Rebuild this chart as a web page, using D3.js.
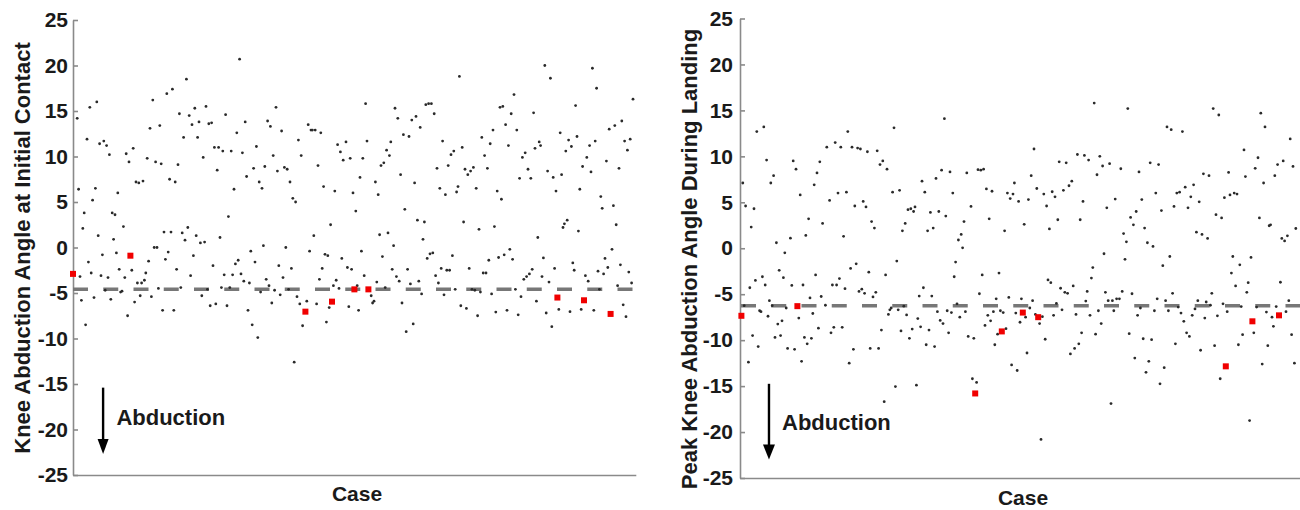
<!DOCTYPE html>
<html>
<head>
<meta charset="utf-8">
<script src="https://cdn.jsdelivr.net/npm/d3@7"></script>
<style>
  body { margin: 0; background: #fff; }
  svg { display: block; font-family: "Liberation Sans", Arial, sans-serif; }
  .axis path, .axis line { stroke: #8a8a8a; stroke-width: 1.6; }
  .axis text { font-size: 21px; font-weight: bold; fill: #1a1a1a; }
  .ylabel, .xlabel, .note { font-weight: bold; fill: #1a1a1a; }
</style>
</head>
<body>
<svg id="chart" width="1300" height="510"></svg>
<script>
// Y axis ticks (degrees) and number of cases per panel
const yTicks = [25, 20, 15, 10, 5, 0, -5, -10, -15, -20, -25];
const caseCount = 402;

// Knee abduction angle at initial contact: [case, angle]
const contactAngles = [
  [3,14.2],[4,6.4],[5,-3.2],[6,-5.8],[7,2.1],[8,3.8],[9,-8.5],[10,11.9],[11,-1.6],[12,15.4],[13,-2.8],[14,5.2],[15,-5.5],[16,6.5],[17,16.0],[18,1.3],[19,11.4],[20,-3.1],[21,-0.8],[22,11.7],[23,-4.7],[24,11.2],[25,-3.3],[26,10.2],[27,-5.7],[28,3.8],[29,0.9],[30,3.6],[31,-0.6],[32,6.0],[33,-2.4],[34,-4.9],[35,-4.8],[36,2.3],[37,-3.3],[38,10.3],[39,-7.5],[40,9.4],[42,-2.5],[43,10.9],[44,-6.0],[45,7.2],[46,-3.9],[47,7.1],[48,-5.3],[49,-3.9],[50,7.3],[51,-3.6],[52,-2.8],[53,9.8],[54,-1.5],[55,13.1],[56,-5.4],[57,16.2],[58,0.0],[59,9.4],[60,0.0],[61,-4.5],[62,13.4],[63,9.2],[64,-6.9],[65,1.7],[66,-1.3],[67,16.9],[68,-0.5],[69,7.5],[70,1.7],[71,17.4],[72,-6.9],[73,7.2],[74,-2.4],[75,9.1],[76,14.7],[77,-4.4],[78,1.6],[79,12.1],[80,0.8],[81,18.5],[82,2.2],[83,14.5],[84,-3.1],[85,13.5],[86,-0.9],[87,15.3],[88,1.3],[89,12.1],[90,13.8],[91,0.5],[92,-5.3],[93,9.9],[94,0.6],[95,15.5],[96,-4.6],[97,13.6],[98,-6.4],[99,13.7],[100,-2.0],
  [101,11.0],[102,-6.2],[103,8.5],[104,11.0],[105,1.1],[106,-4.4],[107,10.6],[108,-3.0],[109,14.6],[110,-6.4],[111,3.4],[112,-4.4],[113,10.6],[114,-3.0],[115,6.4],[116,-1.8],[117,12.6],[118,-1.4],[119,20.7],[120,-2.9],[121,10.4],[122,-3.7],[123,13.8],[124,7.8],[125,-6.9],[126,-3.9],[127,-0.4],[128,-8.5],[129,8.7],[130,-1.6],[131,11.1],[132,-9.9],[133,7.2],[134,-4.9],[135,6.5],[136,0.2],[137,8.9],[138,-3.5],[139,13.9],[140,-4.2],[141,13.3],[142,-6.1],[143,10.1],[144,-4.7],[145,15.4],[146,8.4],[147,-2.0],[148,-5.2],[149,12.8],[150,-3.3],[151,8.8],[152,0.0],[153,8.6],[154,-4.6],[155,7.2],[156,-2.3],[157,5.4],[158,-12.6],[159,5.0],[160,-5.4],[161,11.8],[162,-6.2],[163,10.1],[164,-8.6],[167,-5.9],[168,13.5],[169,-0.4],[170,12.9],[171,12.9],[172,1.3],[173,12.9],[174,-6.2],[175,9.0],[176,-3.5],[177,12.6],[178,-2.3],[179,6.7],[180,-0.75],[181,-8.2],[182,-0.9],[183,-6.6],[184,2.5],[186,-4.2],[187,6.2],[188,-3.6],[189,11.3],[190,-4.5],[191,10.5],[192,-1.2],[193,9.6],[195,11.6],[196,-2.2],[197,-6.5],[198,9.8],[199,-2.4],[200,6.0],
  [202,4.0],[203,-4.2],[204,-6.9],[205,7.7],[206,-0.4],[207,9.8],[208,-3.1],[209,15.8],[210,11.7],[213,-5.3],[214,-6.1],[215,-5.9],[216,7.2],[217,-3.8],[218,5.8],[219,1.4],[220,9.0],[221,-1.0],[222,9.3],[223,-4.4],[224,10.7],[225,1.6],[226,10.1],[227,11.6],[228,-2.4],[229,0.2],[230,15.3],[231,-3.2],[232,14.2],[233,-3.7],[234,8.0],[235,-6.1],[236,12.4],[237,4.2],[238,-9.25],[239,-2.4],[240,12.2],[241,-4.0],[242,14.0],[243,-8.4],[244,7.1],[245,14.4],[246,3.0],[247,-3.7],[248,13.2],[249,-5.1],[250,0.9],[251,2.8],[252,15.7],[253,-1.2],[254,15.8],[255,-0.7],[256,15.8],[257,-0.6],[258,14.7],[259,-3.1],[260,8.7],[261,-3.9],[262,6.5],[263,-2.3],[264,11.7],[265,-5.2],[266,5.8],[267,-2.5],[268,9.0],[269,-2.5],[270,10.2],[271,-0.9],[272,10.6],[273,-4.6],[274,6.1],[275,6.7],[276,18.8],[277,-6.4],[278,11.0],[279,2.8],[280,8.6],[281,-6.7],[282,8.0],[283,-2.3],[284,8.4],[285,-4.6],[286,8.8],[287,-4.7],[288,6.5],[289,-7.5],[290,2.0],[291,-4.9],[292,12.1],[293,-2.8],[294,10.1],[295,-2.8],[296,8.7],[297,-1.4],[298,11.4],[299,-5.1],[300,12.9],
  [301,2.3],[302,-7.1],[303,6.2],[304,-1.1],[305,15.4],[306,5.3],[307,15.5],[308,-0.8],[309,13.5],[310,-6.9],[311,11.2],[312,-0.2],[313,14.7],[314,-1.3],[315,16.8],[316,-4.6],[317,12.9],[318,-7.4],[319,7.6],[320,-5.4],[321,9.9],[322,-3.5],[323,10.4],[324,-3.2],[325,8.6],[326,-2.9],[327,7.6],[328,-2.4],[329,14.8],[330,10.9],[331,-5.9],[332,1.1],[333,11.6],[334,11.2],[335,-3.2],[336,-1.15],[337,20.0],[338,-7.2],[339,8.4],[340,-3.8],[341,18.6],[342,-8.7],[343,7.7],[344,-2.3],[345,6.2],[347,-6.8],[348,12.6],[349,8.0],[350,2.2],[351,2.6],[352,10.6],[353,3.0],[354,11.8],[355,-7.05],[356,11.1],[357,-1.7],[358,-2.5],[359,15.6],[360,12.2],[361,1.8],[362,6.4],[363,-6.8],[364,8.9],[366,-3.1],[367,9.9],[368,-3.7],[369,11.2],[370,8.3],[371,19.7],[372,-6.9],[373,11.7],[374,17.5],[375,-2.6],[376,-4.6],[377,5.6],[378,4.3],[379,-2.9],[380,-1.2],[381,9.5],[382,-2.2],[383,13.0],[385,-0.2],[386,4.6],[387,13.4],[388,2.5],[389,-4.2],[390,8.7],[391,-1.9],[392,13.9],[393,-6.3],[394,11.7],[395,-7.6],[396,10.7],[397,-2.7],[398,11.9],[399,-3.9],[400,16.3]
];
// highlighted (red) cases at initial contact
const contactFlagged = [[0,-2.9],[41,-0.9],[166,-7.05],[185,-5.95],[201,-4.6],[211,-4.6],[346,-5.5],[365,-5.8],[384,-7.3]];
const contactThreshold = -4.6;

// Peak knee abduction angle during landing: [case, angle]
const landingAngles = [
  [2,7.1],[3,-6.25],[4,4.6],[6,-12.4],[7,-4.3],[8,2.3],[9,-9.5],[10,4.3],[11,-3.5],[12,12.7],[13,-10.7],[14,-6.8],[15,-6.9],[16,-3.1],[17,13.2],[18,-4.0],[19,9.6],[20,-7.4],[21,-5.7],[22,7.1],[23,-6.25],[24,7.9],[25,-9.7],[26,0.6],[27,-8.25],[28,-2.4],[29,-9.5],[30,-7.9],[31,-3.2],[32,-0.5],[33,-6.5],[34,-10.9],[36,1.1],[37,-4.05],[38,9.5],[39,-11.0],[40,8.6],[42,-7.6],[43,5.8],[44,-12.3],[45,-4.0],[46,-9.7],[47,1.4],[48,-10.4],[49,3.2],[50,-5.4],[51,-9.8],[52,-7.1],[53,6.9],[54,-2.9],[55,8.2],[56,-8.7],[57,9.4],[58,-5.25],[59,2.7],[61,-6.2],[62,11.0],[64,5.2],[65,-9.2],[66,-4.0],[67,-8.6],[68,11.5],[69,-4.0],[70,6.0],[71,-3.3],[72,11.0],[73,-8.6],[74,1.3],[75,-4.4],[76,6.1],[77,12.7],[78,-12.5],[79,-2.2],[80,11.0],[81,-11.0],[82,4.6],[83,-1.7],[84,10.9],[85,-4.7],[86,10.8],[87,-4.45],[88,5.1],[89,-4.9],[90,4.5],[91,10.5],[92,-2.6],[93,-10.9],[94,2.9],[95,-5.3],[96,2.2],[97,-4.8],[98,10.6],[99,-10.9],[100,9.1],
  [101,-8.9],[102,9.5],[103,-16.7],[104,-2.9],[105,8.6],[106,-7.2],[107,-6.7],[108,-6.5],[109,6.1],[110,13.1],[111,-15.05],[112,-1.4],[113,-6.7],[114,6.3],[115,-9.0],[116,1.9],[117,-6.3],[118,2.7],[119,-7.25],[120,4.2],[121,-9.8],[122,4.3],[123,-8.8],[124,4.0],[125,4.5],[126,-14.9],[127,-7.65],[128,-5.2],[129,-8.55],[130,7.3],[131,-4.3],[132,6.1],[133,-10.5],[134,1.9],[135,-8.9],[136,3.9],[137,-5.2],[138,2.2],[139,-10.7],[140,7.6],[141,-6.9],[142,4.0],[143,-7.85],[144,8.5],[145,-8.2],[146,14.1],[147,3.5],[148,-6.8],[149,-9.2],[150,8.3],[151,-7.0],[152,6.0],[153,-3.1],[154,-1.5],[155,-6.05],[156,0.9],[157,-7.5],[158,1.5],[159,0.05],[160,2.9],[161,-6.9],[162,8.2],[163,-9.6],[165,4.55],[166,-14.2],[167,-9.8],[169,-14.6],[170,8.55],[171,-4.95],[172,8.5],[173,-2.9],[174,8.6],[175,-8.4],[176,6.45],[177,-7.3],[178,3.2],[179,-7.9],[180,6.2],[181,-6.9],[182,-10.5],[183,-5.5],[184,-9.35],[185,-2.7],[186,-6.8],[188,-7.0],[189,1.9],[190,-8.75],[191,6.0],[192,-5.35],[193,5.4],[194,-12.7],[195,5.9],[196,7.1],[197,-7.05],[198,-13.3],[199,5.1],[200,-8.05],
  [201,-5.5],[203,2.6],[204,-7.5],[205,-11.4],[206,5.3],[207,-6.5],[208,7.9],[209,-5.7],[210,10.8],[211,-7.2],[212,6.5],[214,-8.2],[215,-20.8],[216,-7.45],[217,5.9],[218,-9.9],[219,4.6],[220,-3.45],[221,2.1],[222,-3.75],[223,6.15],[224,-7.3],[225,5.6],[226,-6.0],[227,3.1],[228,9.4],[229,-4.35],[230,-6.7],[231,6.3],[232,-4.8],[233,9.3],[234,-4.9],[235,6.8],[236,-11.5],[237,7.3],[238,-4.1],[239,-10.9],[240,-7.2],[241,10.2],[242,-10.4],[243,3.1],[244,-9.2],[245,5.1],[246,10.1],[247,-5.75],[248,-4.7],[249,9.6],[250,-7.3],[251,-3.25],[252,-2.1],[253,15.8],[254,-9.35],[255,8.0],[256,-6.8],[257,10.0],[258,-8.2],[259,8.95],[260,-0.6],[261,-4.8],[262,4.4],[263,-5.7],[264,9.2],[265,-16.9],[266,-5.7],[267,-6.8],[268,5.35],[269,-5.5],[271,-5.5],[272,8.65],[273,-4.7],[274,1.6],[275,-1.2],[276,0.7],[277,15.2],[278,-9.3],[279,3.35],[280,-4.95],[281,2.55],[282,-11.95],[283,4.0],[284,-7.3],[285,8.3],[286,-6.5],[287,5.3],[288,-9.85],[289,2.2],[290,-13.5],[291,0.6],[292,-12.3],[293,9.3],[294,-9.95],[295,0.2],[296,-6.8],[297,6.0],[298,-5.5],[299,9.1],[300,-14.75],
  [301,4.1],[302,-1.9],[303,-13.0],[304,-5.7],[305,13.2],[306,-6.8],[307,-0.9],[308,12.9],[309,-4.9],[310,4.55],[311,-10.4],[312,6.0],[313,-6.4],[314,6.1],[315,-7.05],[316,12.7],[317,-7.95],[318,6.65],[319,-9.2],[320,4.4],[321,-9.6],[322,5.6],[323,-7.3],[324,6.9],[325,-6.6],[326,1.75],[327,-5.7],[328,5.05],[329,-11.1],[330,1.5],[331,8.1],[332,-7.6],[333,-5.85],[334,1.07],[335,7.9],[336,-6.2],[337,-4.9],[338,15.2],[339,-10.6],[340,3.65],[341,-7.35],[342,14.5],[343,-14.2],[344,3.3],[345,-6.05],[346,5.5],[348,-6.9],[349,8.25],[350,5.8],[351,-2.7],[352,-0.9],[353,6.0],[354,-4.1],[355,5.9],[356,-10.5],[357,-1.8],[358,-6.35],[359,-9.4],[360,10.7],[361,7.8],[362,-4.8],[363,-3.75],[364,-18.75],[365,-1.0],[367,-9.2],[368,8.7],[369,-6.4],[370,9.85],[371,3.3],[372,14.7],[373,-12.6],[374,7.1],[375,13.2],[376,-6.95],[377,-10.6],[378,2.45],[379,2.55],[380,-7.5],[381,-8.5],[382,7.9],[383,-6.35],[384,9.1],[386,-3.7],[387,1.07],[388,9.5],[389,0.8],[390,-6.9],[391,1.35],[392,-5.7],[393,11.9],[394,-9.4],[395,8.9],[396,-12.5],[397,2.15]
];
// highlighted (red) cases during landing
const landingFlagged = [[1,-7.35],[41,-6.3],[168,-15.8],[187,-9.05],[202,-7.0],[213,-7.5],[347,-12.85],[366,-7.95],[385,-7.3]];
const landingThreshold = -6.25;

const svg = d3.select("#chart");

function drawPanel(panel) {
    const x = d3.scaleLinear()
        .domain([0, caseCount])
        .range([panel.left, panel.left + caseCount * 1.4]);
    const y = d3.scaleLinear()
        .domain([-25, 25])
        .range([panel.bottom, panel.top]);

    const g = svg.append("g");

    // axes (no box, ticks point inward like matlab)
    g.append("g")
        .attr("class", "axis")
        .attr("transform", `translate(${panel.left},0)`)
        .call(d3.axisLeft(y)
            .tickValues(yTicks)
            .tickFormat(d => String(d))
            .tickSizeInner(-5)
            .tickSizeOuter(0)
            .tickPadding(panel.pad));

    g.append("g")
        .attr("class", "axis")
        .attr("transform", `translate(0,${panel.bottom})`)
        .call(d3.axisBottom(x).tickValues([]).tickSizeOuter(0));

    // mean line
    g.append("line")
        .attr("x1", x(0))
        .attr("x2", x(caseCount))
        .attr("y1", y(panel.threshold))
        .attr("y2", y(panel.threshold))
        .attr("stroke", "#777")
        .attr("stroke-width", 3.5)
        .attr("stroke-dasharray", "15,15.25")
        .attr("stroke-dashoffset", panel.dashOffset);

    // all cases
    g.append("g")
        .selectAll("circle")
        .data(panel.points)
        .enter()
        .append("circle")
        .attr("cx", d => x(d[0]))
        .attr("cy", d => y(d[1]))
        .attr("r", 1.4)
        .attr("fill", "#2a2a2a");

    // flagged cases
    g.append("g")
        .selectAll("rect")
        .data(panel.flagged)
        .enter()
        .append("rect")
        .attr("x", d => x(d[0]) - 3)
        .attr("y", d => y(d[1]) - 3)
        .attr("width", 6)
        .attr("height", 6)
        .attr("fill", "#f00000");

    // abduction arrow
    const ax = x(panel.arrow.atCase);
    const yHead = y(panel.arrow.to);
    g.append("line")
        .attr("x1", ax).attr("x2", ax)
        .attr("y1", y(panel.arrow.from))
        .attr("y2", yHead - 8)
        .attr("stroke", "#000")
        .attr("stroke-width", 2.4);
    g.append("path")
        .attr("d", `M${ax - panel.arrow.half},${yHead - 15} L${ax + panel.arrow.half},${yHead - 15} L${ax},${yHead} Z`)
        .attr("fill", "#000");

    g.append("text")
        .attr("class", "note")
        .attr("x", x(panel.arrow.textCase))
        .attr("y", y(panel.arrow.textAt))
        .style("font-size", "22px")
        .text("Abduction");

    // labels
    g.append("text")
        .attr("class", "ylabel")
        .attr("transform", `translate(${panel.yLabelX},${panel.yLabelY}) rotate(-90)`)
        .attr("text-anchor", "middle")
        .attr("dominant-baseline", "central")
        .style("font-size", "22px")
        .text(panel.yLabel);

    g.append("text")
        .attr("class", "xlabel")
        .attr("x", panel.xLabelX)
        .attr("y", panel.xLabelY)
        .attr("text-anchor", "middle")
        .style("font-size", "21px")
        .text("Case");
}

drawPanel({
    points: contactAngles,
    flagged: contactFlagged,
    threshold: contactThreshold,
    left: 73, top: 20, bottom: 475, pad: 5, dashOffset: 0,
    arrow: { atCase: 21.5, from: -15.4, to: -22.7, half: 5.5, textCase: 31, textAt: -19.5 },
    yLabel: "Knee Abduction Angle at Initial Contact",
    yLabelX: 22.5, yLabelY: 248,
    xLabelX: 357, xLabelY: 501
});

drawPanel({
    points: landingAngles,
    flagged: landingFlagged,
    threshold: landingThreshold,
    left: 740, top: 18.5, bottom: 478, pad: 7, dashOffset: -1,
    arrow: { atCase: 20.7, from: -14.75, to: -23.0, half: 6, textCase: 30, textAt: -19.8 },
    yLabel: "Peak Knee Abduction Angle During Landing",
    yLabelX: 689, yLabelY: 259,
    xLabelX: 1023, xLabelY: 504.5
});
</script>
</body>
</html>
